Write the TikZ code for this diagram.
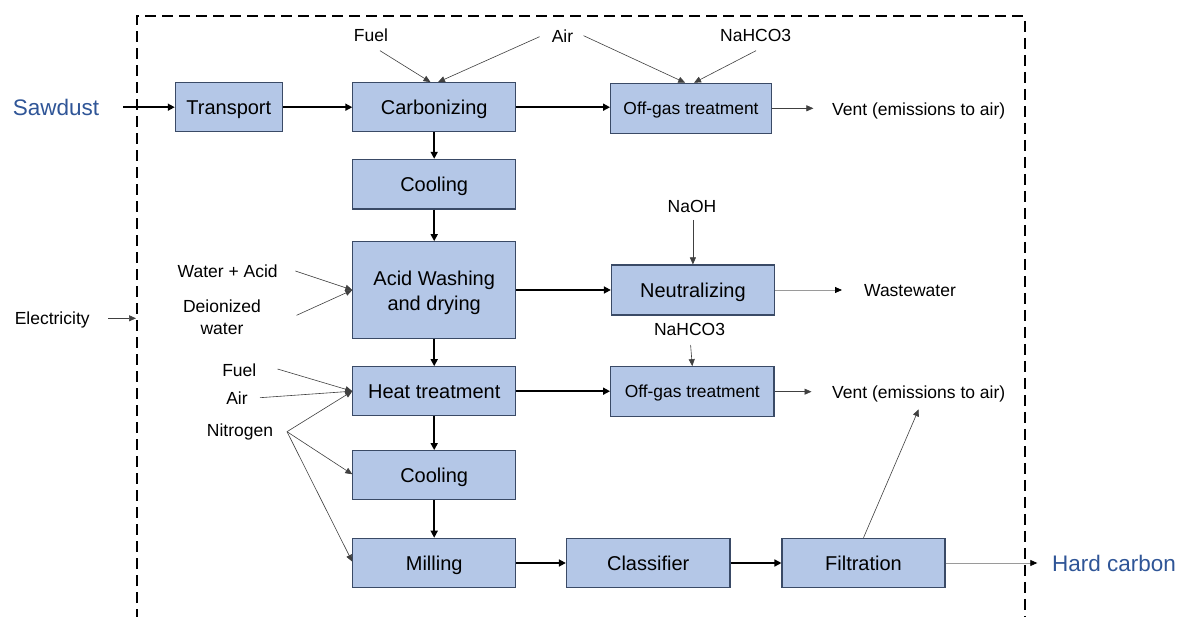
\documentclass[tikz,border=0pt]{standalone}
\usepackage{fontspec}
\setmainfont{Liberation Sans}
\usetikzlibrary{arrows.meta,calc}
\definecolor{boxfill}{HTML}{B4C7E7}
\definecolor{boxline}{HTML}{3A4A66}
\definecolor{bluetxt}{HTML}{2F5597}
\definecolor{thinline}{HTML}{404040}
\definecolor{grayline}{HTML}{9A9A9A}
\tikzset{
  procbox/.style={draw=boxline, fill=boxfill, line width=1.1pt, inner sep=0pt, align=center,
    font=\fontsize{20}{25}\selectfont, text=black, text height=14.4pt, text depth=0pt},
  smallbox/.style={procbox, font=\fontsize{17.4}{20}\selectfont, text height=12.5pt},
  lbl/.style={inner sep=0pt, align=center, font=\fontsize{17.5}{22}\selectfont, text=black, text height=12.6pt, text depth=0pt},
  biglbl/.style={inner sep=0pt, font=\fontsize{22.5}{26}\selectfont, text=bluetxt, text height=16.2pt, text depth=0pt},
  thick arrow/.style={line width=1.6pt, draw=black, -{Triangle[length=7pt,width=7pt]}},
  thin arrow/.style={line width=0.6pt, draw=thinline, -{Triangle[length=7pt,width=6pt]}},
  gray arrow/.style={line width=0.8pt, draw=grayline, -{Triangle[length=7pt,width=6pt,color=black]}},
  boundary/.style={line width=2pt, draw=black, dash pattern=on 11pt off 6pt}
}
\begin{document}
\begin{tikzpicture}[x=1pt,y=-1pt]
\useasboundingbox (0,0) rectangle (1179,617);
\fill[white] (0,0) rectangle (1179,617);

% system boundary
\draw[boundary] (136.6,620) -- (136.6,16.5) -- (1024.7,16.5) -- (1024.7,620);

% process boxes
\node[procbox, minimum width=107pt, minimum height=49pt] (transport) at (228.8,107.2) {Transport};
\node[procbox, minimum width=162.7pt, minimum height=49pt] (carb) at (434.2,107.2) {Carbonizing};
\node[procbox, minimum width=162.7pt, minimum height=49.7pt] (cool1) at (434.2,184.2) {Cooling};
\node[procbox, minimum width=162.7pt, minimum height=96.6pt,
  label={[inner sep=0pt, align=center, font=\fontsize{20}{25}\selectfont, yshift=-3pt]center:Acid Washing\\and drying}] (acid) at (434.2,290) {};
\node[procbox, minimum width=162.7pt, minimum height=49pt] (heat) at (434.2,391.2) {Heat treatment};
\node[procbox, minimum width=162.7pt, minimum height=49.3pt] (cool2) at (434.2,475.3) {Cooling};
\node[procbox, minimum width=162.7pt, minimum height=49.4pt] (mill) at (434.2,563) {Milling};
\node[procbox, minimum width=163.6pt, minimum height=49.4pt] (classifier) at (648.2,563) {Classifier};
\node[procbox, minimum width=163pt, minimum height=49.4pt] (filtration) at (863.5,563) {Filtration};
\node[smallbox, minimum width=160.8pt, minimum height=50pt] (offgas1) at (691,108.3) {Off-gas treatment};
\node[procbox, minimum width=163pt, minimum height=50pt] (neutral) at (692.9,290) {Neutralizing};
\node[smallbox, minimum width=163.4pt, minimum height=50pt] (offgas2) at (692.3,391.7) {Off-gas treatment};

% labels
\node[biglbl] (sawdust) at (56,107) {Sawdust};
\node[biglbl] (hardcarbon) at (1114,563) {Hard carbon};
\node[lbl] (fuelA) at (371,35.5) {Fuel};
\node[lbl] (airA) at (562.5,36.5) {Air};
\node[lbl] (nahcoA) at (755.7,35) {NaHCO3};
\node[lbl] (vent1) at (918.7,109) {Vent (emissions to air)};
\node[lbl] (electricity) at (52.2,318.3) {Electricity};
\node[lbl] (wateracid) at (227.7,271.7) {Water + Acid};
\node[inner sep=0pt, align=center, font=\fontsize{17.5}{22.3}\selectfont] (deion) at (222,317) {Deionized\\water};
\node[lbl] (fuelB) at (239.3,370) {Fuel};
\node[lbl] (airB) at (237,398.3) {Air};
\node[lbl] (nitrogen) at (240,430.7) {Nitrogen};
\node[lbl] (naoh) at (692,206.7) {NaOH};
\node[lbl] (wastewater) at (910,290) {Wastewater};
\node[lbl] (nahcoB) at (689.6,329) {NaHCO3};
\node[lbl] (vent2) at (918.7,392.3) {Vent (emissions to air)};

% free ends
\coordinate (sawS) at (123,107.2);
\coordinate (fuelAS) at (380,50.7);
\coordinate (airAS1) at (539.6,36.7);
\coordinate (airAS2) at (583.6,35.7);
\coordinate (nahcoAS) at (756,50.7);
\coordinate (vent1E) at (813.4,108.3);
\coordinate (elecS) at (108,318.3);
\coordinate (elecE) at (136,318.3);
\coordinate (waS) at (295.4,271);
\coordinate (diS) at (296.6,315.3);
\coordinate (fuelBS) at (277.5,369);
\coordinate (airBS) at (260,397.7);
\coordinate (nitS) at (287,431.7);
\coordinate (naohS) at (692.9,220);
\coordinate (wwE) at (842,290);
\coordinate (nahcoBS) at (690.6,345);
\coordinate (vent2E) at (811.5,391.7);
\coordinate (vent2In) at (918.7,409.3);
\coordinate (hcE) at (1037.3,563);

% main flow
\draw[thick arrow] (sawS) -- (transport.west);
\draw[thick arrow] (transport.east) -- (carb.west);
\draw[thick arrow] (carb.east) -- (carb.east -| offgas1.west);
\draw[thick arrow] (carb.south) -- (cool1.north);
\draw[thick arrow] (cool1.south) -- (acid.north);
\draw[thick arrow] (acid.east) -- (neutral.west);
\draw[thick arrow] (acid.south) -- (heat.north);
\draw[thick arrow] (heat.east) -- (heat.east -| offgas2.west);
\draw[thick arrow] (heat.south) -- (cool2.north);
\draw[thick arrow] (cool2.south) -- (mill.north);
\draw[thick arrow] (mill.east) -- (classifier.west);
\draw[thick arrow] (classifier.east) -- (filtration.west);

% inputs / outputs
\draw[thin arrow] (fuelAS) -- ($(carb.north)+(-3.7,0)$);
\draw[thin arrow] (airAS1) -- ($(carb.north)+(3.8,0)$);
\draw[thin arrow] (airAS2) -- ($(offgas1.north)+(-5.8,0)$);
\draw[thin arrow] (nahcoAS) -- ($(offgas1.north)+(3,0)$);
\draw[thin arrow] (offgas1.east) -- (vent1E);
\draw[thin arrow] (elecS) -- (elecE);
\draw[thin arrow] (waS) -- (acid.west);
\draw[thin arrow] (diS) -- (acid.west);
\draw[thin arrow] (fuelBS) -- (heat.west);
\draw[thin arrow] (airBS) -- (heat.west);
\draw[thin arrow] (nitS) -- (heat.west);
\draw[thin arrow] (nitS) -- ($(cool2.west)+(0,-1)$);
\draw[thin arrow] (nitS) -- ($(mill.west)+(0,-1.3)$);
\draw[thin arrow] (naohS) -- (neutral.north);
\draw[gray arrow] (neutral.east) -- (wwE);
\draw[thin arrow] (nahcoBS) -- (offgas2.north);
\draw[thin arrow] (offgas2.east) -- (vent2E);
\draw[thin arrow] (filtration.north) -- (vent2In);
\draw[gray arrow] (filtration.east) -- (hcE);
\end{tikzpicture}
\end{document}
